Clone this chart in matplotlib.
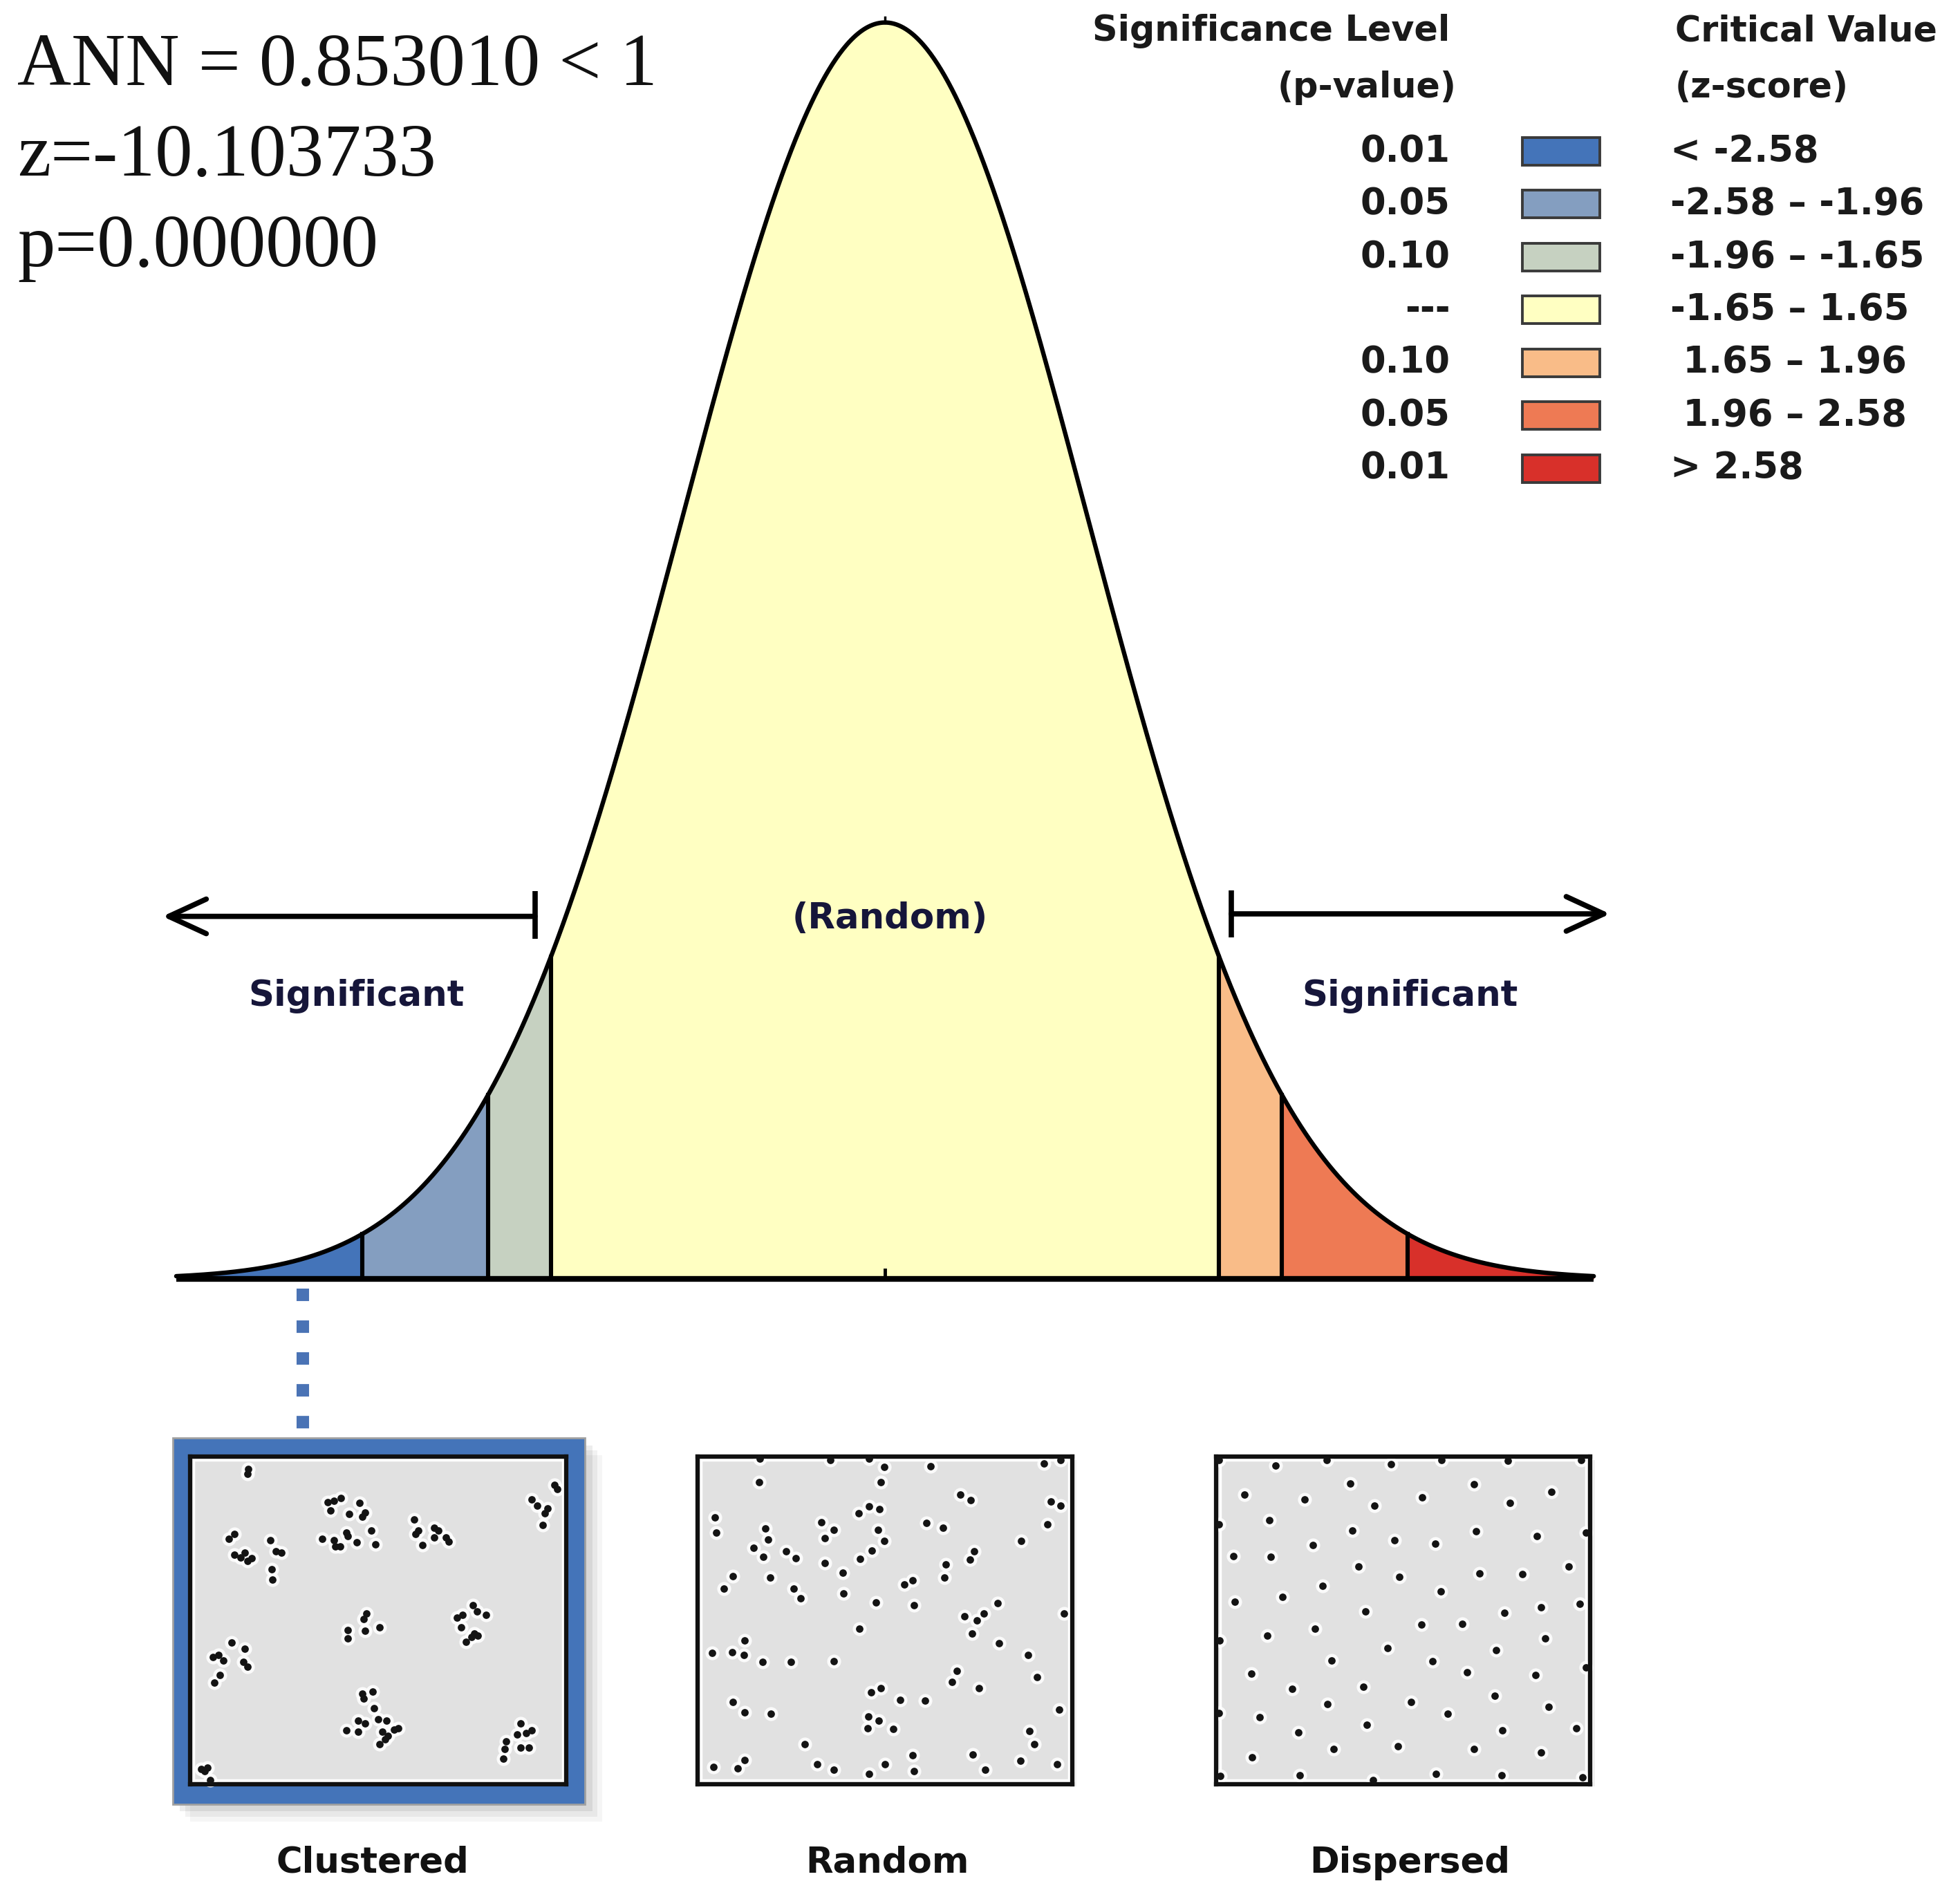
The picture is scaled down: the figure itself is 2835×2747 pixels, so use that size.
import numpy as np
import matplotlib
matplotlib.use("Agg")
import matplotlib.pyplot as plt
from matplotlib.patches import Rectangle, ArrowStyle

# ---------------- data ----------------
z_breaks = [-3.5, -2.58, -1.96, -1.65, 1.65, 1.96, 2.58, 3.5]
zone_colors = ['#4474B9', '#849EC0', '#C6D1C1', '#FFFFC2', '#F9BC88', '#EE7A54', '#D8302A']
p_labels = ['0.01', '0.05', '0.10', '---', '0.10', '0.05', '0.01']
z_labels = ['< -2.58', '-2.58 \u2013 -1.96', '-1.96 \u2013 -1.65', '-1.65 \u2013 1.65',
            ' 1.65 \u2013 1.96', ' 1.96 \u2013 2.58', '> 2.58']
stats_lines = ['ANN = 0.853010 < 1', 'z=-10.103733', 'p=0.000000']
pattern_names = ['Clustered', 'Random', 'Dispersed']

clustered_pts = [
    (312, 180), (310, 200), (1378, 245), (1388, 262),
    (1300, 305), (1318, 330), (1355, 340), (1345, 362), (1337, 408),
    (590, 315), (610, 310), (635, 300), (600, 350), (665, 365), (700, 320), (720, 358), (710, 375),
    (570, 465), (610, 470), (615, 495), (632, 497), (655, 440), (660, 455), (690, 480), (740, 430), (755, 488),
    (890, 385), (905, 430), (895, 445), (920, 490), (960, 420), (975, 432), (960, 460), (1000, 460), (1010, 477),
    (265, 445), (245, 465), (265, 530), (285, 542), (300, 520), (310, 555), (325, 545), (390, 470),
    (410, 515), (428, 520), (395, 590), (398, 632),
    (725, 770), (715, 790), (660, 835), (660, 870), (720, 840), (770, 825),
    (1040, 785), (1060, 775), (1095, 735), (1110, 760), (1140, 775), (1055, 825), (1100, 850),
    (1112, 858), (1070, 885), (1090, 865),
    (255, 887), (300, 912), (190, 945), (210, 938), (225, 960), (295, 965), (310, 985), (215, 1020), (195, 1050),
    (710, 1095), (745, 1085), (715, 1115), (750, 1155), (695, 1205), (720, 1215), (655, 1245), (695, 1250),
    (765, 1200), (795, 1205), (780, 1250), (800, 1265), (820, 1240), (835, 1235), (790, 1280), (770, 1300),
    (1260, 1215), (1250, 1260), (1280, 1255), (1300, 1245), (1260, 1315), (1290, 1315), (1210, 1290),
    (1205, 1320), (1200, 1360),
    (150, 1400), (170, 1395), (160, 1410), (180, 1445),
]
random_pts = [
    (290, 90), (560, 95), (710, 90), (1380, 110), (1445, 95), (768, 125), (945, 122),
    (287, 193), (753, 192), (1060, 247), (1100, 270), (1408, 275), (1443, 295),
    (118, 345), (122, 410), (668, 328), (710, 297), (748, 310), (525, 367), (572, 400), (540, 435),
    (930, 368), (993, 390), (1393, 375), (310, 393), (322, 440), (743, 398), (768, 448), (1292, 448),
    (265, 478), (302, 518), (390, 492), (428, 523), (720, 490), (675, 527), (540, 545),
    (1113, 493), (1097, 530), (1003, 550), (997, 607), (607, 585), (187, 600), (150, 655), (330, 607),
    (845, 638), (877, 620), (420, 655), (447, 697), (610, 677), (735, 715), (880, 728), (1202, 717),
    (1075, 776), (1122, 793), (1150, 762), (1457, 763), (672, 828), (1105, 850), (230, 882),
    (105, 935), (182, 932), (228, 945), (300, 973), (408, 973), (572, 970), (1207, 893), (1320, 943),
    (1045, 1012), (1027, 1060), (1353, 1040), (1130, 1088), (717, 1107), (753, 1088), (828, 1140),
    (923, 1143), (187, 1147), (232, 1193), (333, 1198), (1438, 1182), (705, 1212), (745, 1230),
    (703, 1263), (802, 1265), (1325, 1275), (1342, 1333), (462, 1332), (875, 1380), (1108, 1378),
    (230, 1400), (203, 1437), (112, 1432), (510, 1418), (572, 1443), (770, 1418), (882, 1448),
    (710, 1462), (1155, 1443), (1290, 1405), (1430, 1420),
]
dispersed_pts = [
    (65, 95), (480, 95), (920, 97), (1175, 100), (1455, 97), (283, 120), (727, 115),
    (570, 197), (1045, 200), (1342, 233), (163, 245), (395, 267), (845, 257), (662, 293), (1182, 283),
    (258, 356), (65, 375), (577, 402), (1053, 405), (1287, 425), (1475, 410), (740, 443), (897, 460),
    (425, 467), (120, 513), (263, 517), (602, 560), (1067, 590), (1230, 592), (1408, 560), (757, 605),
    (463, 643), (917, 668), (127, 713), (310, 692), (627, 755), (1160, 760), (1303, 735), (1450, 720),
    (843, 810), (1000, 807), (433, 828), (250, 860), (67, 880), (1318, 873), (1130, 923), (712, 915),
    (497, 967), (885, 972), (190, 1025), (1017, 1020), (1280, 1032), (1475, 998), (347, 1092),
    (620, 1082), (1125, 1122), (802, 1147), (482, 1158), (1330, 1170), (65, 1197), (222, 1213),
    (943, 1198), (633, 1248), (370, 1280), (1153, 1272), (1438, 1262), (505, 1352), (753, 1342),
    (1045, 1352), (1302, 1368), (193, 1390), (375, 1466), (657, 1488), (898, 1460), (1150, 1468),
    (70, 1470), (1460, 1475),
]
# extents of each pattern frame (same units as the points)
pattern_frames = [(110, 1420, 130, 1462), (50, 1490, 80, 1505), (55, 1490, 80, 1505)]

# ---------------- layout ----------------
W, H = 1568.0, 1519.0          # layout units (reference proportions)
PEAK_X, PX_PER_Z = 708.0, 162.0
BASE_Y, PEAK_Y = 1023.0, 18.0
TXT = '#16163a'


def pdf(z):
    return np.exp(-np.asarray(z) ** 2 / 2.0) / np.sqrt(2 * np.pi)


fig = plt.figure(figsize=(28.35, 27.47), dpi=100)
fig.patch.set_facecolor('white')

# --- bell curve axes (z / density coordinates) ---
k = (BASE_Y - PEAK_Y) / pdf(0.0)
ax = fig.add_axes([0, 0, 1, 1])
ax.set_xlim((0 - PEAK_X) / PX_PER_Z, (W - PEAK_X) / PX_PER_Z)
ax.set_ylim((BASE_Y - H) / k, BASE_Y / k)
ax.axis('off')

for i in range(len(zone_colors)):
    zz = np.linspace(z_breaks[i], z_breaks[i + 1], 300)
    ax.fill_between(zz, 0, pdf(zz), color=zone_colors[i], lw=0)
zz_all = np.linspace(z_breaks[0], z_breaks[-1], 1200)
ax.plot(zz_all, pdf(zz_all), color='black', lw=4.6, solid_capstyle='round')
for b in z_breaks[1:-1]:
    ax.plot([b, b], [0, pdf(b)], color='black', lw=4.4)
ax.plot([z_breaks[0], z_breaks[-1]], [0, 0], color='black', lw=6, solid_capstyle='butt')
ax.plot([0, 0], [0, 7 / k], color='black', lw=3.5)
ax.plot([0, 0], [pdf(0), pdf(0) + 4 / k], color='black', lw=2.5)

# --- overlay axes in layout units ---
ov = fig.add_axes([0, 0, 1, 1], facecolor='none')
ov.set_xlim(0, W)
ov.set_ylim(H, 0)
ov.axis('off')

# statistics text
for i, line in enumerate(stats_lines):
    ov.text(14, 68 + i * 72.5, line, fontsize=78, family='Liberation Serif',
            color='#111111', ha='left', va='baseline')

# legend
hdr = dict(fontsize=36.5, weight='bold', color='#1a1a1a', family='DejaVu Sans', va='center')
ov.text(1160, 25, 'Significance Level', ha='right', **hdr)
ov.text(1165, 70, '(p-value)', ha='right', **hdr)
ov.text(1340, 25, 'Critical Value', ha='left', **hdr)
ov.text(1340, 70, '(z-score)', ha='left', **hdr)
for i, (pl, zl, col) in enumerate(zip(p_labels, z_labels, zone_colors)):
    yc = 121 + i * 42.3
    ov.text(1160, yc, pl, ha='right', va='center', fontsize=38, weight='bold', color='#1a1a1a')
    ov.add_patch(Rectangle((1218, yc - 11), 62, 22, facecolor=col, edgecolor='#3a3a3a', lw=2.8))
    ov.text(1336, yc, zl, ha='left', va='center', fontsize=38, weight='bold', color='#1a1a1a')

# arrows and labels
astyle = ArrowStyle('->', head_length=1.3, head_width=0.6)
ov.annotate('', xy=(130, 733), xytext=(428, 733),
            arrowprops=dict(arrowstyle=astyle, lw=5.5, color='black', mutation_scale=30,
                            shrinkA=0, shrinkB=0))
ov.plot([428, 428], [713, 751], color='black', lw=5.5, solid_capstyle='butt')
ov.annotate('', xy=(1288, 731), xytext=(985, 731),
            arrowprops=dict(arrowstyle=astyle, lw=5.5, color='black', mutation_scale=30,
                            shrinkA=0, shrinkB=0))
ov.plot([985, 985], [712, 750], color='black', lw=5.5, solid_capstyle='butt')

lab = dict(fontsize=37, weight='bold', color=TXT, ha='center', va='center')
ov.text(285, 797, 'Significant', **lab)
ov.text(1128, 797, 'Significant', **lab)
ov.text(712, 735, '(Random)', **lab)

# dotted connector
ov.plot([242, 242], [1031, 1146], color='#4A73B5', lw=13, ls=(0, (1, 1.55)),
        dash_capstyle='butt')

# clustered highlight frame with shadow
for off, a in [(14, 0.04), (10, 0.05), (6, 0.07)]:
    ov.add_patch(Rectangle((138 + off, 1150 + off), 330, 293, facecolor='black',
                           alpha=a, lw=0))
ov.add_patch(Rectangle((138, 1150), 330, 293, facecolor='#4474B9', edgecolor='#a0a0a0', lw=2))
for x0 in (558, 973):
    ov.add_patch(Rectangle((x0 + 3, 1168), 300, 261, facecolor='black', alpha=0.06, lw=0))

# pattern labels
box_x = [(152, 453), (558, 858), (973, 1272)]
name_x = [298, 710, 1128]
for nm, nx in zip(pattern_names, name_x):
    ov.text(nx, 1490, nm, fontsize=37, weight='bold', color='#111111', ha='center', va='center')

# --- point pattern boxes ---
for (x0, x1), pts, fr in zip(box_x, [clustered_pts, random_pts, dispersed_pts], pattern_frames):
    y0, y1 = 1165, 1427
    bx = fig.add_axes([x0 / W, 1 - y1 / H, (x1 - x0) / W, (y1 - y0) / H])
    bx.set_facecolor('#E1E1E1')
    bx.set_xlim(fr[0], fr[1])
    bx.set_ylim(fr[3], fr[2])
    bx.set_xticks([])
    bx.set_yticks([])
    for s in bx.spines.values():
        s.set_linewidth(4.5)
        s.set_color('#111111')
    bx.add_patch(Rectangle((0.01, 0.011), 0.98, 0.978, transform=bx.transAxes, fill=False,
                           edgecolor='white', lw=2.5))
    arr = np.array(pts, dtype=float)
    bx.scatter(arr[:, 0], arr[:, 1], s=210, c='white', alpha=0.85, lw=0, zorder=1, clip_on=False)
    bx.scatter(arr[:, 0], arr[:, 1], s=60, c='#141414', lw=0, zorder=3, clip_on=False)

fig.savefig('out.png', dpi=100, facecolor='white')
